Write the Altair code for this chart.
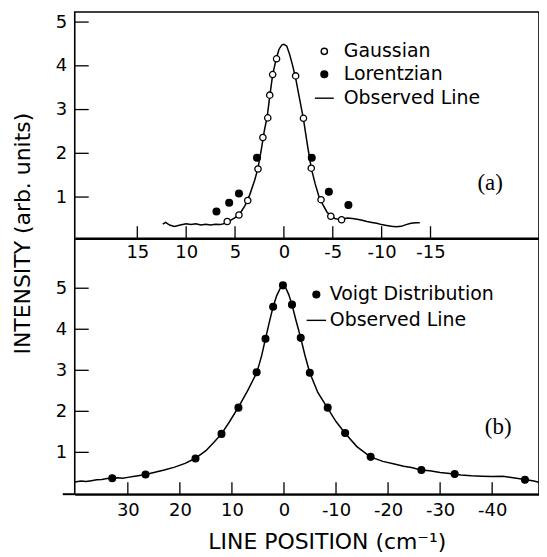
import altair as alt
import pandas as pd

# ---------------- panel (a) ----------------
obs_a_x = [12.4, 12.1, 11.7, 11.2, 10.6, 10.0, 9.5, 9.0, 8.5, 8.0, 7.5, 7.0, 6.5, 6.0,
           5.5, 5.0, 4.5, 4.0, 3.5, 3.0, 2.65, 2.3, 2.0, 1.7, 1.45, 1.15, 0.8, 0.5, 0.2,
           0.0, -0.3, -0.6, -0.9, -1.2, -1.6, -2.0, -2.4, -2.8, -3.2, -3.6, -4.0, -4.4,
           -4.8, -5.2, -5.6, -6.0, -6.5, -7.0, -7.5, -8.0, -8.5, -9.0, -9.5, -10.0,
           -10.5, -11.0, -11.5, -12.0, -12.5, -13.0, -13.5, -13.9]
obs_a_y = [0.38, 0.42, 0.36, 0.33, 0.36, 0.39, 0.37, 0.39, 0.36, 0.38, 0.36, 0.38, 0.37, 0.40,
           0.46, 0.53, 0.62, 0.80, 1.05, 1.38, 1.66, 2.10, 2.52, 2.85, 3.30, 3.80, 4.15, 4.38, 4.48,
           4.49, 4.45, 4.25, 4.00, 3.72, 3.25, 2.78, 2.20, 1.66, 1.30, 1.00, 0.82, 0.66,
           0.57, 0.51, 0.49, 0.50, 0.52, 0.51, 0.49, 0.47, 0.44, 0.42, 0.40, 0.37,
           0.35, 0.33, 0.32, 0.33, 0.37, 0.40, 0.41, 0.41]
gauss_x = [5.8, 4.6, 3.7, 2.65, 2.15, 1.65, 1.45, 1.15, 0.75, -1.2, -2.0, -2.8, -3.8, -4.8, -5.9]
gauss_y = [0.44, 0.59, 0.92, 1.64, 2.36, 2.81, 3.33, 3.80, 4.16, 3.77, 2.80, 1.66, 0.94, 0.56, 0.48]
lor_x = [6.9, 5.6, 4.6, 2.75, -2.85, -4.6, -6.6]
lor_y = [0.67, 0.87, 1.08, 1.90, 1.90, 1.12, 0.82]

# ---------------- panel (b) ----------------
obs_b_x = [40.2, 39, 38, 37, 36, 35, 34, 33, 32, 31, 30, 29, 28, 26.6, 25, 23, 21, 19, 17.1,
           15, 13.5, 12.0, 10.5, 8.8, 7, 5.2, 4.3, 3.55, 2.8, 2.08, 1.4, 0.7, 0.2, -0.3,
           -0.9, -1.54, -2.3, -3.22, -4.0, -4.96, -6.5, -8.32, -10, -11.7, -14, -16.6,
           -19, -21, -23, -24.5, -26.3, -28, -30, -32.7, -34, -36, -38, -40, -42, -44,
           -46.3, -48, -49]
obs_b_y = [0.28, 0.30, 0.29, 0.31, 0.33, 0.34, 0.36, 0.37, 0.38, 0.37, 0.39, 0.41, 0.43, 0.46,
           0.51, 0.57, 0.64, 0.73, 0.85, 1.04, 1.24, 1.45, 1.74, 2.09, 2.50, 2.95, 3.35, 3.77,
           4.18, 4.55, 4.82, 5.00, 5.07, 5.02, 4.85, 4.60, 4.22, 3.79, 3.38, 2.94, 2.46, 2.09,
           1.75, 1.47, 1.14, 0.89, 0.78, 0.72, 0.66, 0.63, 0.57, 0.55, 0.51, 0.47, 0.45, 0.43,
           0.42, 0.41, 0.42, 0.38, 0.34, 0.30, 0.27]
voigt_x = [33.0, 26.6, 17.0, 12.0, 8.75, 5.25, 3.55, 2.08, 0.2, -1.54, -3.22, -4.96, -8.4,
           -11.75, -16.65, -26.4, -32.8, -46.3]
voigt_y = [0.37, 0.46, 0.85, 1.45, 2.09, 2.95, 3.77, 4.55, 5.07, 4.60, 3.79, 2.94, 2.09,
           1.47, 0.89, 0.57, 0.47, 0.33]

ticks_a_x = [15, 10, 5, 0, -5, -10, -15]
ticks_b_x = [30, 20, 10, 0, -10, -20, -30, -40]
ticks_y = [1, 2, 3, 4, 5]

series_a = ["Gaussian", "Lorentzian", "Observed Line"]
series_b = ["Voigt Distribution", "Observed Line"]
panel_labels = ["(a)", "(b)"]

W, H = 466, 484
HA = 227
FONT = "DejaVu Sans"
minus = "datum.value < 0 ? '-' + format(-datum.value, 'd') : format(datum.value, 'd')"

xa = alt.Scale(domain=[21.4, -26.1], nice=False, zero=False)
ya = alt.Scale(domain=[0.06, 5.23], range=[HA, 0], nice=False, zero=False)
xb = alt.Scale(domain=[40.2, -49.0], nice=False, zero=False)
yb = alt.Scale(domain=[-0.02, 6.22], range=[H, HA], nice=False, zero=False)

xa_axis = alt.Axis(orient="bottom", offset=HA - H, values=ticks_a_x, ticks=False, tickSize=0,
                   domain=True, domainColor="black", domainWidth=2.5, labelFont=FONT,
                   labelFontSize=18, labelPadding=5, labelColor="black", labelExpr=minus,
                   labelFlush=False, grid=False, title=None)
ya_axis = alt.Axis(orient="left", values=ticks_y, ticks=False, tickSize=0, domain=False,
                   labelFont=FONT, labelFontSize=18, labelPadding=8, labelColor="black",
                   grid=False, title="INTENSITY (arb. units)", titleFont=FONT, titleFontSize=22,
                   titleFontWeight="normal", titleColor="black", titleAngle=270,
                   titleAlign="center", titleBaseline="middle", titleX=-52, titleY=222)
xb_axis = alt.Axis(orient="bottom", offset=0, values=ticks_b_x, ticks=False, tickSize=0,
                   domain=True, domainColor="black", domainWidth=2, labelFont=FONT,
                   labelFontSize=18, labelPadding=7, labelColor="black", labelExpr=minus,
                   labelFlush=False, grid=False, title="LINE POSITION (cm⁻¹)", titleFont=FONT,
                   titleFontSize=22, titleFontWeight="normal", titleColor="black",
                   titleAlign="center", titleBaseline="middle", titleX=253, titleY=48)
yb_axis = alt.Axis(orient="left", values=ticks_y, ticks=False, tickSize=0, domain=False,
                   labelFont=FONT, labelFontSize=18, labelPadding=8, labelColor="black",
                   grid=False, title=None)

leg_a = alt.Legend(orient="none", legendX=240, legendY=30, title=None, labelFont=FONT,
                   labelFontSize=19, labelColor="black", labelOffset=9, rowPadding=3,
                   labelLimit=400, symbolStrokeWidth=1.4, padding=0)
leg_b = alt.Legend(orient="none", legendX=232, legendY=274, title=None, labelFont=FONT,
                   labelFontSize=19, labelColor="black", labelOffset=3, rowPadding=5,
                   labelLimit=400, symbolStrokeWidth=1.4, padding=0)

# ---------- data frames ----------
dfa_line = pd.DataFrame({"x": obs_a_x, "y": obs_a_y})
dfa_pts = pd.DataFrame({"x": gauss_x + lor_x, "y": gauss_y + lor_y,
                        "series": ["Gaussian"] * len(gauss_x) + ["Lorentzian"] * len(lor_x)})
dfb_line = pd.DataFrame({"x": obs_b_x, "y": obs_b_y})
dfb_pts = pd.DataFrame({"x": voigt_x, "y": voigt_y, "series": ["Voigt Distribution"] * len(voigt_x)})

# ---------- panel (a) ----------
line_a = alt.Chart(dfa_line).mark_line(color="black", strokeWidth=1.5).encode(
    x=alt.X("x:Q", scale=xa, axis=xa_axis), y=alt.Y("y:Q", scale=ya, axis=ya_axis))
pts_a = alt.Chart(dfa_pts).mark_point(strokeWidth=1.3, opacity=1, fillOpacity=1).encode(
    x=alt.X("x:Q", scale=xa, axis=xa_axis), y=alt.Y("y:Q", scale=ya, axis=ya_axis),
    shape=alt.Shape("series:N", scale=alt.Scale(domain=series_a, range=["circle", "circle", "stroke"]), legend=leg_a),
    fill=alt.Fill("series:N", scale=alt.Scale(domain=series_a, range=["white", "black", "black"]), legend=leg_a),
    stroke=alt.Stroke("series:N", scale=alt.Scale(domain=series_a, range=["black", "black", "black"]), legend=leg_a),
    size=alt.Size("series:N", scale=alt.Scale(type="ordinal", domain=series_a, range=[40, 46, 361]), legend=leg_a))
tick_ax = alt.Chart(pd.DataFrame({"v": ticks_a_x})).mark_rule(color="black", strokeWidth=1.3).encode(
    x=alt.X("v:Q", scale=xa, axis=xa_axis), y=alt.value(HA), y2=alt.value(HA - 12))
tick_ay = alt.Chart(pd.DataFrame({"v": ticks_y})).mark_rule(color="black", strokeWidth=1.3).encode(
    y=alt.Y("v:Q", scale=ya, axis=ya_axis), x=alt.value(0), x2=alt.value(14))
lab_a = alt.Chart(pd.DataFrame({"t": [panel_labels[0]]})).mark_text(
    font="Liberation Serif", fontSize=23, color="black", align="center", baseline="middle").encode(
    text="t:N", x=alt.value(417), y=alt.value(172))
top = alt.layer(line_a, pts_a, tick_ax, tick_ay, lab_a)

# ---------- panel (b) ----------
line_b = alt.Chart(dfb_line).mark_line(color="black", strokeWidth=1.5).encode(
    x=alt.X("x:Q", scale=xb, axis=xb_axis), y=alt.Y("y:Q", scale=yb, axis=yb_axis))
pts_b = alt.Chart(dfb_pts).mark_point(strokeWidth=1.3, opacity=1, fillOpacity=1).encode(
    x=alt.X("x:Q", scale=xb, axis=xb_axis), y=alt.Y("y:Q", scale=yb, axis=yb_axis),
    shape=alt.Shape("series:N", scale=alt.Scale(domain=series_b, range=["circle", "stroke"]), legend=leg_b),
    fill=alt.Fill("series:N", scale=alt.Scale(domain=series_b, range=["black", "black"]), legend=leg_b),
    stroke=alt.Stroke("series:N", scale=alt.Scale(domain=series_b, range=["black", "black"]), legend=leg_b),
    size=alt.Size("series:N", scale=alt.Scale(type="ordinal", domain=series_b, range=[46, 380]), legend=leg_b))
tick_bx = alt.Chart(pd.DataFrame({"v": ticks_b_x})).mark_rule(color="black", strokeWidth=1.3).encode(
    x=alt.X("v:Q", scale=xb, axis=xb_axis), y=alt.value(H), y2=alt.value(H - 12))
tick_by = alt.Chart(pd.DataFrame({"v": ticks_y})).mark_rule(color="black", strokeWidth=1.3).encode(
    y=alt.Y("v:Q", scale=yb, axis=yb_axis), x=alt.value(0), x2=alt.value(14))
ext = alt.Chart(pd.DataFrame({"a": [0]})).mark_rule(color="black", strokeWidth=2).encode(
    x=alt.value(-12), x2=alt.value(0), y=alt.value(H))
lab_b = alt.Chart(pd.DataFrame({"t": [panel_labels[1]]})).mark_text(
    font="Liberation Serif", fontSize=23, color="black", align="center", baseline="middle").encode(
    text="t:N", x=alt.value(425), y=alt.value(417))
bottom = alt.layer(line_b, pts_b, tick_bx, tick_by, ext, lab_b)

chart = alt.layer(top, bottom).resolve_scale(
    x="independent", y="independent", shape="independent", fill="independent",
    stroke="independent", size="independent"
).resolve_axis(x="independent", y="independent").resolve_legend(
    shape="independent", fill="independent", stroke="independent", size="independent"
).properties(
    width=W, height=H,
    autosize=alt.AutoSizeParams(type="none"),
    padding={"left": 67, "top": 3, "right": 0, "bottom": 62},
    background="white",
).configure_view(stroke="black", strokeWidth=1.6).configure_axis(grid=False)

chart.save("out.html", embed_options={"renderer": "svg", "actions": False})
